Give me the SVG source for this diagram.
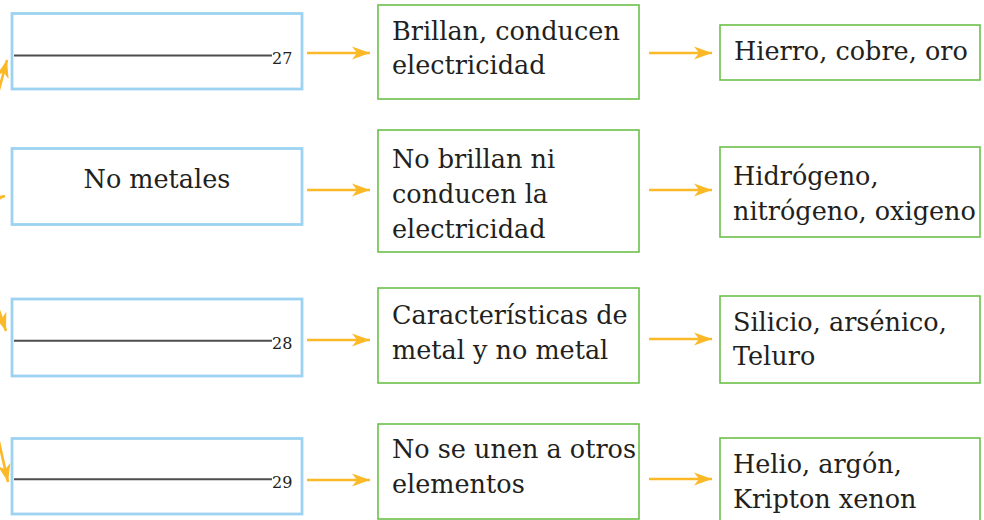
<svg xmlns="http://www.w3.org/2000/svg" width="984" height="520" viewBox="0 0 984 520">
<defs>
<style>
.blue{fill:#fff;stroke:#9dd3f1;stroke-width:2.8}
.green{fill:#fff;stroke:#6cc04a;stroke-width:1.6}
.t{font-size:25.5px;fill:#231f20}
.n{font-size:16px;fill:#231f20}
.blank{stroke:#4d4d4d;stroke-width:2}
.arr{fill:none;stroke:#fbb928;stroke-width:2.6;marker-end:url(#ah)}
</style>
<marker id="ah" markerUnits="userSpaceOnUse" markerWidth="20" markerHeight="14" refX="18" refY="6.5" orient="auto" overflow="visible">
<path d="M0,0 L18,6.5 L0,13 L5,6.5 Z" fill="#fbb928"/>
</marker>
</defs>
<rect width="984" height="520" fill="#fff"/>
<g id="connectors">
<path class="arr" d="M-20,160 L7,60"/>
<path class="arr" d="M-60,215 L5,196"/>
<path class="arr" d="M-15,270 L6,331"/>
<path class="arr" d="M-15,380 L8,482"/>
<path class="arr" d="M307,53 L370,53"/>
<path class="arr" d="M307,190 L370,190"/>
<path class="arr" d="M307,340 L370,340"/>
<path class="arr" d="M307,480 L370,480"/>
<path class="arr" d="M649,53 L712,53"/>
<path class="arr" d="M649,190 L712,190"/>
<path class="arr" d="M649,339 L712,339"/>
<path class="arr" d="M649,479 L712,479"/>
</g>
<g font-family="'DejaVu Serif', serif">
<g id="n27">
<rect class="blue" x="12" y="13.5" width="290" height="75.5"/>
<line class="blank" x1="14" y1="55.5" x2="272" y2="55.5"/>
<text class="n" x="272" y="63.5">27</text>
</g>
<g id="nometales">
<rect class="blue" x="12" y="148.5" width="290" height="76"/>
<text class="t" x="157" y="188" text-anchor="middle">No metales</text>
</g>
<g id="n28">
<rect class="blue" x="12" y="299" width="290" height="77"/>
<line class="blank" x1="14" y1="340.7" x2="272" y2="340.7"/>
<text class="n" x="272" y="348.5">28</text>
</g>
<g id="n29">
<rect class="blue" x="12" y="438.5" width="290" height="75.5"/>
<line class="blank" x1="14" y1="479.3" x2="272" y2="479.3"/>
<text class="n" x="272" y="487.5">29</text>
</g>
<g id="brillan">
<rect class="green" x="378" y="5" width="261" height="94"/>
<text class="t" x="392" y="40">Brillan, conducen</text>
<text class="t" x="392" y="74">electricidad</text>
</g>
<g id="nobrillan">
<rect class="green" x="378" y="130" width="261" height="122"/>
<text class="t" x="392" y="168">No brillan ni</text>
<text class="t" x="392" y="203">conducen la</text>
<text class="t" x="392" y="238">electricidad</text>
</g>
<g id="caracteristicas">
<rect class="green" x="378" y="288" width="261" height="95"/>
<text class="t" x="392" y="324">Características de</text>
<text class="t" x="392" y="359">metal y no metal</text>
</g>
<g id="nounen">
<rect class="green" x="378" y="424" width="261" height="95"/>
<text class="t" x="392" y="458">No se unen a otros</text>
<text class="t" x="392" y="493">elementos</text>
</g>
<g id="hierro">
<rect class="green" x="720" y="25" width="260" height="55"/>
<text class="t" x="734" y="60">Hierro, cobre, oro</text>
</g>
<g id="hidrogeno">
<rect class="green" x="720" y="147" width="260" height="90"/>
<text class="t" x="733" y="185">Hidrógeno,</text>
<text class="t" x="733" y="220">nitrógeno, oxigeno</text>
</g>
<g id="silicio">
<rect class="green" x="720" y="296" width="260" height="87"/>
<text class="t" x="733" y="331">Silicio, arsénico,</text>
<text class="t" x="733" y="365">Teluro</text>
</g>
<g id="helio">
<rect class="green" x="720" y="438" width="260" height="100"/>
<text class="t" x="733" y="473">Helio, argón,</text>
<text class="t" x="733" y="508">Kripton xenon</text>
</g>
</g>
</svg>
